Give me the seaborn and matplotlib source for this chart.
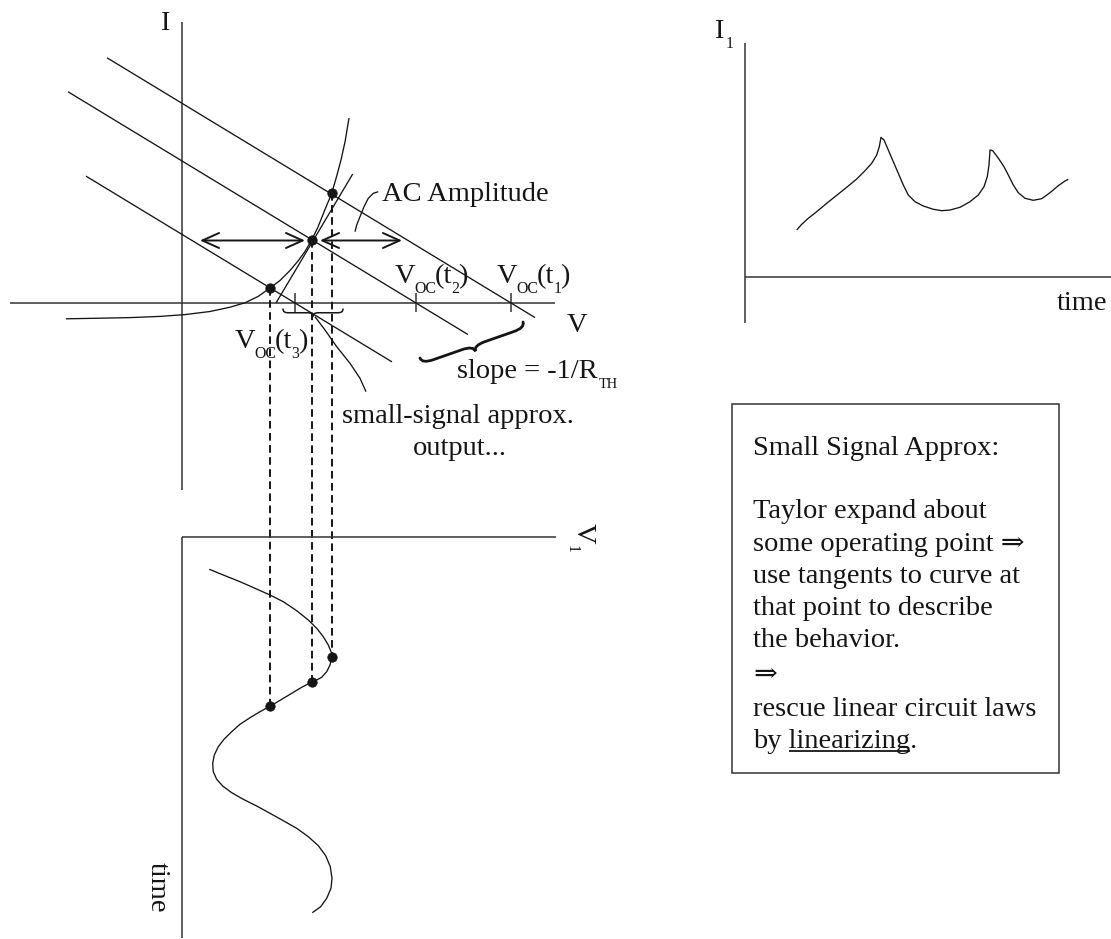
import numpy as np
import matplotlib
matplotlib.use("Agg")
import matplotlib.pyplot as plt
from matplotlib.path import Path
from matplotlib.patches import PathPatch, Rectangle
import seaborn as sns

# ---------------- data (picture units: x to the right, y downward) ----------------
# I-V plane: three load lines, slope = -1/R_TH, crossing the V axis at V_oc(t)
voc_names = ["1", "2", "3"]
voc_x = [511.0, 416.0, 295.0]
load_start_v = [107.0, 68.0, 86.0]
load_end_v = [535.0, 468.0, 392.0]
load_slope = 0.607

# nonlinear device characteristic
diode_v = [66, 100, 130, 160, 185, 210, 230, 245, 258, 270, 280, 290, 298, 305,
           311.7, 318, 324, 331.7, 337, 341, 345, 349]
diode_i = [318.8, 318.2, 317.6, 316.4, 314.6, 311.5, 307.2, 302.8, 296.5, 288, 280.5,
           270.5, 261, 251.5, 240, 227, 212, 193.3, 175, 160, 142, 118]

# tangent at the operating point
tangent_v = [276.0, 352.7]
tangent_i = [303.0, 174.0]

# operating points (same V in the I-V plane and in the V1(t) plot)
op_v = [270.0, 311.7, 331.7]
op_i = [288.0, 240.0, 193.3]
op_t = [705.7, 681.7, 657.3]

# V1 versus time (drawn rotated, time downwards)
vin_v = [209.3, 225, 240, 255, 270, 283.3, 296.7, 308.3, 316.7, 323.3, 328.3, 331.7, 331.7,
         330, 326.7, 321.7, 316.7, 312.3, 301.7, 291.7, 281.7, 271, 260, 250, 240, 231.7,
         224, 218.3, 214.3, 212.7, 213.3, 216.7, 222.7, 231.7, 243.3, 256.7, 270, 283.3,
         296.7, 308.3, 318.3, 325.7, 330.3, 332, 331, 326.7, 320.7, 312.3]
vin_t = [569.3, 575.7, 581.7, 588.3, 595, 601.7, 610.7, 620, 628.3, 636.7, 645, 653.3, 657.3,
         665, 671.7, 677.3, 680, 681.7, 687.3, 693.3, 699.3, 705.7, 711.7, 717.7, 724.3, 731.7,
         739.3, 746.7, 755, 763.3, 771.7, 779.3, 786, 792.7, 799.3, 806, 813.3, 820.7,
         828.3, 836.7, 845.7, 855.7, 866.7, 878.3, 888.3, 898.3, 906.7, 912.7]

# I1 versus time (top right)
out_t = [796.7, 801.7, 808.3, 816.7, 826.7, 836.7, 846.7, 856.7, 865, 871.7, 876.7, 879.3,
         881, 884, 888.3, 893.3, 898.3, 903.3, 908.3, 915, 923.3, 933.3, 941.7, 950, 960,
         970, 978.3, 984, 987.3, 989, 989.7, 990, 992.7, 997.7, 1004, 1008.3, 1013.3,
         1018.3, 1025, 1033.3, 1041.7, 1050, 1058.3, 1065, 1068.3]
out_i = [230, 224.3, 218.3, 211.7, 203.3, 195.3, 187.3, 179, 170.7, 163.3, 155, 146.7,
         137.3, 140, 150, 161.7, 173.3, 185, 195, 201.7, 206, 209.3, 210.7, 210, 207.3,
         201.7, 195, 186.7, 176.7, 165, 155, 150, 150.7, 157.3, 166.7, 175, 185,
         192.7, 198.3, 200.3, 198.7, 192.7, 185.7, 181, 179.3]

box_lines = ["Small Signal Approx:", "", "Taylor expand about", "some operating point \u21d2",
             "use tangents to curve at", "that point to describe", "the behavior.",
             "\u21d2", "rescue linear circuit laws"]

# ---------------- style ----------------
sns.set_theme(style="white")
plt.rcParams['font.family'] = ['Liberation Serif', 'DejaVu Serif']
plt.rcParams['lines.scale_dashes'] = False
plt.rcParams['lines.solid_capstyle'] = 'butt'

FS = 20.5
PX = FS * 100 / 72          # em size in pixels
INK = "#151515"
AXC = "#333333"
LW = 0.95

fig = plt.figure(figsize=(11.11, 9.39), dpi=100)
ax = fig.add_axes([0, 0, 1, 1])
ax.set_xlim(0, 1111)
ax.set_ylim(939, 0)
ax.axis('off')
R = fig.canvas.get_renderer()


def line(xs, ys, **kw):
    d = dict(color=INK, lw=LW)
    d.update(kw)
    ax.plot(xs, ys, **d)


def rich(x, y, parts, rot=0, subf=0.56, drop=0.34, gap=-1.0):
    """parts: list of (text, is_subscript); x, y = start of baseline."""
    cur = 0.0
    for txt, sub in parts:
        fs = FS * subf if sub else FS
        dy = drop * PX if sub else 0.0
        if rot == 0:
            tx, ty = x + cur, y + dy
        else:  # rot == -90, text runs downwards, glyph tops to the right
            tx, ty = x - dy, y + cur
        t = ax.text(tx, ty, txt, fontsize=fs, color=INK, rotation=rot,
                    rotation_mode='anchor', ha='left', va='baseline')
        bb = t.get_window_extent(R)
        cur += (bb.width if rot == 0 else bb.height) + gap


def brace(p0, p1, h, lw=1.1, a=None):
    p0 = np.asarray(p0, float)
    p1 = np.asarray(p1, float)
    u = p1 - p0
    L = np.hypot(*u)
    u = u / L
    n = np.array([-u[1], u[0]])
    if np.dot(n, [0, 1]) < 0:
        n = -n
    if a is None:
        a = min(h, L / 6)
    P = lambda s, v: p0 + u * s + n * v
    verts = [P(0, 0), P(0, h / 2), P(a, h / 2), P(L / 2 - a, h / 2), P(L / 2, h / 2), P(L / 2, h),
             P(L / 2, h / 2), P(L / 2 + a, h / 2), P(L - a, h / 2), P(L, h / 2), P(L, 0)]
    codes = [Path.MOVETO, Path.CURVE3, Path.CURVE3, Path.LINETO, Path.CURVE3, Path.CURVE3,
             Path.CURVE3, Path.CURVE3, Path.LINETO, Path.CURVE3, Path.CURVE3]
    ax.add_patch(PathPatch(Path(verts, codes), fill=False, lw=lw, color=INK, capstyle='round'))


# ---------------- I-V plane ----------------
line([182, 182], [22, 490], color=AXC, lw=1.1)
line([10, 555], [303, 303], color=AXC, lw=1.1)
for vx in voc_x:
    line([vx, vx], [293, 312], color=AXC, lw=1.1)

for vs, ve, vo in zip(load_start_v, load_end_v, voc_x):
    xs = np.array([vs, ve])
    sns.lineplot(x=xs, y=303 + load_slope * (xs - vo), ax=ax, color=INK, lw=LW,
                 sort=False, estimator=None)

sns.lineplot(x=diode_v, y=diode_i, ax=ax, color=INK, lw=LW, sort=False, estimator=None)
line(tangent_v, tangent_i)

for v, i, t in zip(op_v, op_i, op_t):
    line([v, v], [i, t], ls=(0, (5.5, 3.2)), lw=1.4)

sns.scatterplot(x=op_v, y=op_i, ax=ax, s=46, color=INK, edgecolor=INK, zorder=5)

# amplitude arrows
for xa, xb in [(200, 305), (320, 402)]:
    ax.annotate('', xy=(xa, 240.5), xytext=(xb, 240.5),
                arrowprops=dict(arrowstyle='<->,head_length=1.0,head_width=0.45',
                                lw=1.4, color=INK, shrinkA=0, shrinkB=0))

# braces
brace((283, 309), (343, 309), 7.5, lw=1.1, a=5)
brace((420, 358), (523, 322), 12, lw=2.0, a=12)

# leaders
line([355, 356.7, 360, 364, 368.3, 373.3, 378.3], [231.7, 225, 216.7, 206.7, 198.3, 193.3, 191.7])
line([315, 325, 336.7, 350, 360, 366], [316.7, 330, 346.7, 363.3, 378.3, 391.7])

# labels
ax.text(160, 30, "I", fontsize=FS, color=INK, ha='left', va='baseline')
ax.text(567, 332, "V", fontsize=FS, color=INK, ha='left', va='baseline')
ax.text(382, 201, "AC Amplitude", fontsize=FS, color=INK, ha='left', va='baseline')
for (xv, yv), nm in zip([(497, 283), (395, 283), (235, 348)], voc_names):
    rich(xv, yv, [("V", False), ("OC", True), ("(t", False), (nm, True), (")", False)], gap=-1.2)
rich(457, 378, [("slope = -1/R", False), ("TH", True)], subf=0.5, gap=1.0)

ax.text(458, 423, "small-signal approx.", fontsize=FS, color=INK, ha='center', va='baseline')
ax.text(460, 455, "output...", fontsize=FS, color=INK, ha='center', va='baseline')

# ---------------- V1(t), rotated ----------------
line([182, 556], [537, 537], color=AXC, lw=1.1)
line([182, 182], [537, 938], color=AXC, lw=1.1)
sns.lineplot(x=vin_v, y=vin_t, ax=ax, color=INK, lw=LW, sort=False, estimator=None)
sns.scatterplot(x=op_v, y=op_t, ax=ax, s=46, color=INK, edgecolor=INK, zorder=5)
rich(577, 523, [("V", False), ("1", True)], rot=-90, gap=1.0)
ax.text(151, 862, "time", fontsize=FS, color=INK, rotation=-90,
        rotation_mode='anchor', ha='left', va='baseline')

# ---------------- I1(t) ----------------
line([745, 745], [43, 323], color=AXC, lw=1.1)
line([745, 1111], [277, 277], color=AXC, lw=1.1)
sns.lineplot(x=out_t, y=out_i, ax=ax, color=INK, lw=LW, sort=False, estimator=None)
rich(714, 38, [("I", False), ("1", True)], gap=2.5)
ax.text(1107, 310, "time", fontsize=FS, color=INK, ha='right', va='baseline')

# ---------------- note box ----------------
ax.add_patch(Rectangle((732, 404), 327, 369, fill=False, lw=1.1, edgecolor=AXC))
baselines = [455, None, 518, 551, 583, 615, 647, 682, 716]
for txt, b in zip(box_lines, baselines):
    if txt:
        ax.text(753, b, txt, fontsize=FS, color=INK, ha='left', va='baseline')

xb, yb = 753, 748
ax.text(xb, yb, "by linearizing.", fontsize=FS, color=INK, ha='left', va='baseline')
inv = ax.transData.inverted()
t_by = ax.text(xb, yb, "by", fontsize=FS, alpha=0)
t_lin = ax.text(xb, yb, "by linearizing", fontsize=FS, alpha=0)
e1 = t_by.get_window_extent(R)
e2 = t_lin.get_window_extent(R)
x_start = inv.transform((e1.x1, 0))[0] + 0.25 * PX
x_end = inv.transform((e2.x1, 0))[0]
t_by.remove()
t_lin.remove()
line([x_start, x_end], [yb + 3, yb + 3], lw=1.3)

fig.savefig("out.png", dpi=100)
